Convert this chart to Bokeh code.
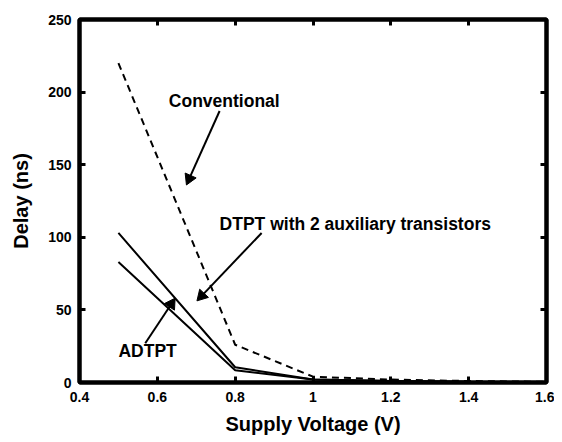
import math
from bokeh.plotting import figure
from bokeh.models import Range1d, FixedTicker, LinearAxis
from bokeh.core.properties import value
from bokeh.embed import file_html
from bokeh.resources import INLINE

voltage = [0.5, 0.8, 1.0, 1.2, 1.4, 1.6]
conventional = [220, 26, 4, 2, 1, 0.5]
dtpt_aux = [103, 10.5, 2, 1, 0.5, 0.3]
adtpt = [83, 8.5, 2, 1, 0.5, 0.3]

x_ticks = [0.4, 0.6, 0.8, 1.0, 1.2, 1.4, 1.6]
x_tick_labels = ["0.4", "0.6", "0.8", "1", "1.2", "1.4", "1.6"]
y_ticks = [0, 50, 100, 150, 200, 250]

# annotation texts and their pointer arrows (data coordinates)
note_texts = ["Conventional", "DTPT with 2 auxiliary transistors", "ADTPT"]
note_x = [0.772, 0.76, 0.575]
note_y = [194, 109, 22]
note_align = ["center", "left", "center"]
arrow_x0 = [0.76, 0.868, 0.569]
arrow_y0 = [187, 103, 27]
arrow_x1 = [0.682, 0.714, 0.636]
arrow_y1 = [140.4, 59.7, 54.1]

FONT = "Liberation Sans"
FW, FH = 467, 368

p = figure(width=79 + FW + 8, height=19 + FH + 50, output_backend="svg", toolbar_location=None,
           x_range=Range1d(0.4, 1.6), y_range=Range1d(0, 250),
           min_border_left=79, min_border_top=19, min_border_right=8, min_border_bottom=50)
p.xgrid.grid_line_color = None
p.ygrid.grid_line_color = None
p.outline_line_color = "black"
p.outline_line_width = 4

def style_axis(ax, labels=True):
    ax.axis_line_width = 4
    ax.axis_line_color = "black"
    ax.major_tick_in = 6
    ax.major_tick_out = 1
    ax.major_tick_line_width = 3
    ax.major_tick_line_color = "black"
    ax.minor_tick_in = 0
    ax.minor_tick_out = 0
    ax.major_label_text_font = FONT
    ax.major_label_text_font_style = "bold"
    ax.major_label_text_font_size = "14px"
    ax.major_label_text_color = "black"
    ax.axis_label_text_font = FONT
    ax.axis_label_text_font_style = "bold"
    ax.axis_label_text_font_size = "20px"
    ax.axis_label_text_color = "black"
    if not labels:
        ax.major_label_text_color = None
        ax.major_label_standoff = 0

style_axis(p.xaxis[0])
style_axis(p.yaxis[0])
p.xaxis.ticker = FixedTicker(ticks=x_ticks)
p.xaxis.major_label_overrides = {t: l for t, l in zip(x_ticks, x_tick_labels)}
p.yaxis.ticker = FixedTicker(ticks=y_ticks)
p.xaxis.axis_label = "Supply Voltage (V)"
p.yaxis.axis_label = "Delay (ns)"
p.xaxis.major_label_standoff = 8
p.yaxis.major_label_standoff = 7
p.xaxis.axis_label_standoff = 8
p.yaxis.axis_label_standoff = 13

top = LinearAxis(ticker=FixedTicker(ticks=x_ticks))
style_axis(top, labels=False)
p.add_layout(top, "above")
right = LinearAxis(ticker=FixedTicker(ticks=y_ticks))
style_axis(right, labels=False)
p.add_layout(right, "right")

p.line(voltage, conventional, line_color="black", line_width=2, line_dash="7 5")
p.line(voltage, dtpt_aux, line_color="black", line_width=2)
p.line(voltage, adtpt, line_color="black", line_width=2)

# arrows: shaft segments plus triangle heads oriented along the screen direction
sx = FW / (1.6 - 0.4)
sy = FH / 250.0
angles = []
for x0, y0, x1, y1 in zip(arrow_x0, arrow_y0, arrow_x1, arrow_y1):
    a = math.atan2((y1 - y0) * sy, (x1 - x0) * sx)
    angles.append(a - math.pi / 2)
p.segment(arrow_x0, arrow_y0, arrow_x1, arrow_y1, line_color="black", line_width=2)
p.scatter(arrow_x1, arrow_y1, marker="triangle", size=12, angle=angles,
          fill_color="black", line_color="black")

for t, x, y, al in zip(note_texts, note_x, note_y, note_align):
    p.text(x=[x], y=[y], text=[t], text_font=value(FONT), text_font_style="bold",
           text_font_size="17.5px", text_align=al, text_baseline="middle",
           text_color="black")

open("out.html", "w").write(file_html(p, INLINE))
